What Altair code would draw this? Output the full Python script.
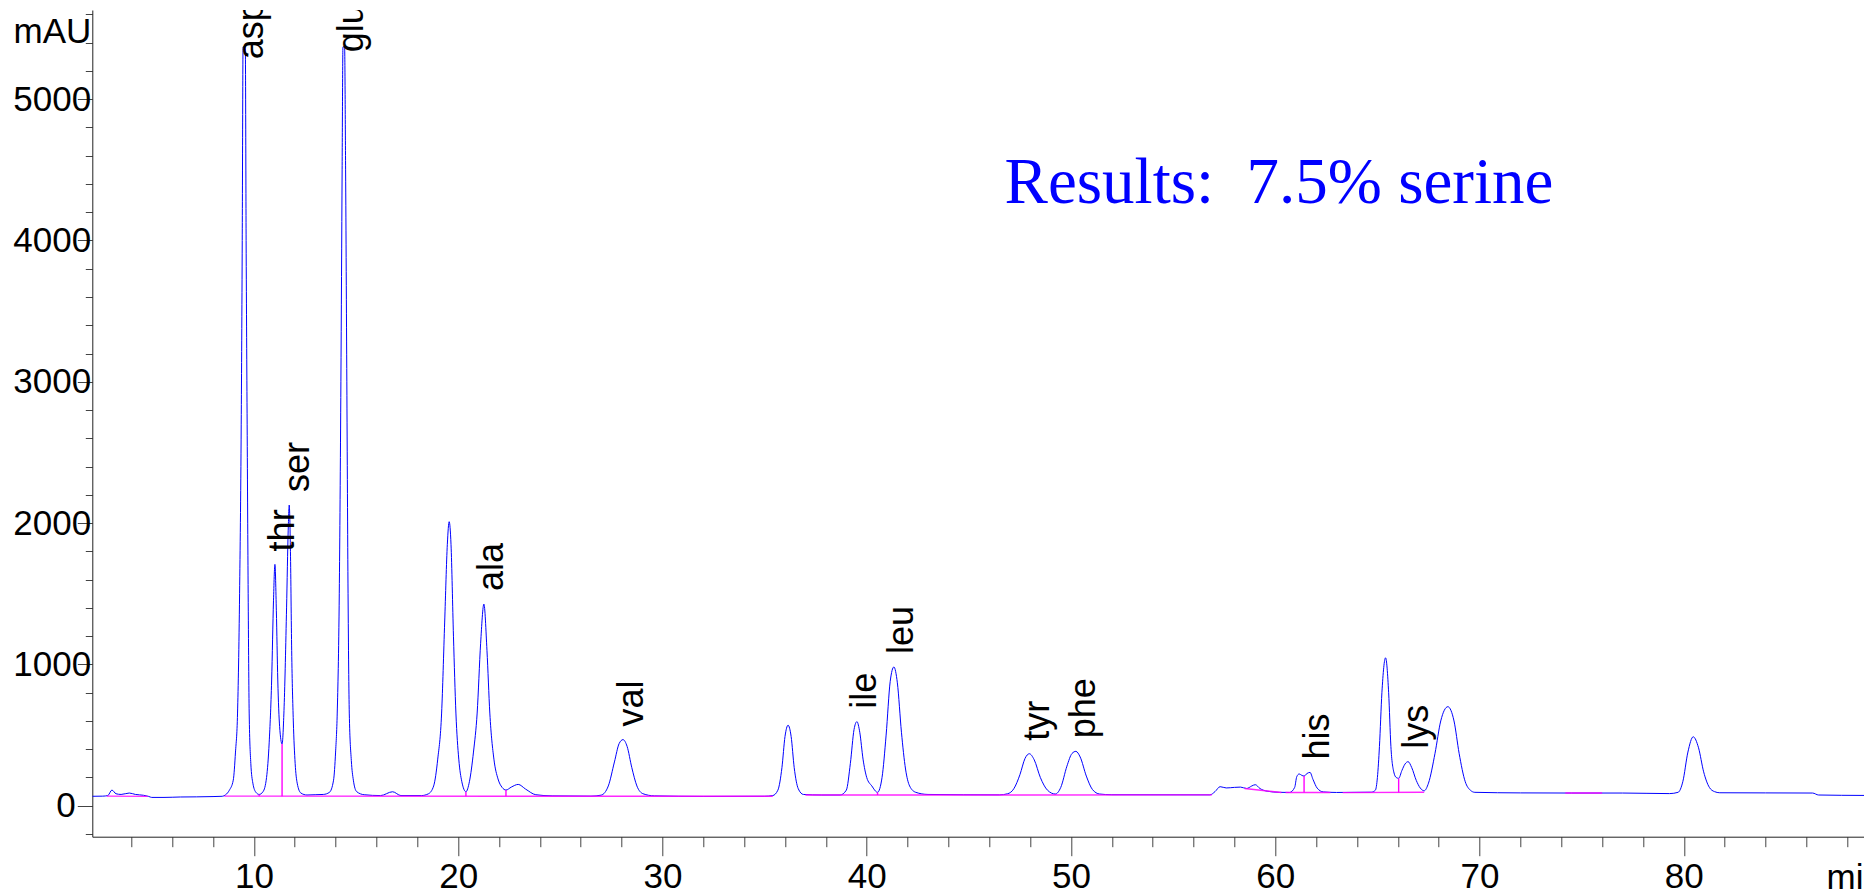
import altair as alt
import pandas as pd

# ---- chromatogram trace: retention time (min) / absorbance (mAU) ----
trace_time = [
    2.09, 2.6, 2.85, 3.05, 3.25, 3.5, 3.9, 4.2, 4.6, 4.85, 5.0, 5.6, 6.4, 7.2, 8.0, 8.45, 8.62,
    8.8, 8.99, 9.1, 9.2, 9.3, 9.38, 9.43, 9.47, 9.58, 9.62, 9.67, 9.72, 9.77, 9.85, 9.95, 10.1, 10.26,
    10.45, 10.62, 10.75, 10.87, 10.96, 11.03, 11.1, 11.17, 11.26, 11.38,
    11.48, 11.6, 11.68, 11.73, 11.79, 11.85, 11.93, 12.02, 12.12, 12.3, 12.6, 13.0, 13.4,
    13.7, 13.9, 14.0, 14.08, 14.18, 14.26, 14.32, 14.36, 14.44, 14.49, 14.55, 14.61, 14.67, 14.77,
    14.87, 15.03, 15.4, 16.2,
    16.79, 17.2, 18.2,
    18.55, 18.8, 19.0, 19.19, 19.34, 19.47, 19.56, 19.65, 19.77, 19.89, 20.03, 20.18, 20.38,
    20.55, 20.75, 20.93, 21.1, 21.26, 21.41, 21.55, 21.75, 21.95, 22.15, 22.34, 22.6, 22.94, 23.3,
    23.8, 24.6, 26.5,
    27.0, 27.35, 27.65, 27.88, 28.07, 28.27, 28.5, 28.75, 29.05, 29.6, 32.0, 35.0,
    35.4, 35.65, 35.85, 36.0, 36.15, 36.3, 36.45, 36.65, 36.9, 37.8, 38.7,
    39.0, 39.2, 39.38, 39.52, 39.66, 39.82, 40.0, 40.25, 40.53,
    40.75, 40.95, 41.15, 41.33, 41.5, 41.7, 41.9, 42.1, 42.4, 43.0, 46.5,
    46.9, 47.2, 47.5, 47.75, 47.96, 48.2, 48.5, 48.85, 49.23,
    49.5, 49.8, 50.05, 50.24, 50.45, 50.75, 51.05, 51.4, 52.0, 56.8,
    57.05, 57.3, 57.6, 58.0, 58.3, 58.6, 58.85, 59.02, 59.25, 59.6, 60.2, 60.7,
    60.95, 61.05, 61.17, 61.3, 61.41, 61.55, 61.7, 61.85, 62.05, 62.35, 63.0, 64.7,
    64.9, 65.0, 65.1, 65.22, 65.4, 65.55, 65.66, 65.8, 65.92, 66.04,
    66.2, 66.35, 66.5, 66.68, 66.9, 67.1, 67.29,
    67.5, 67.82, 68.1, 68.45, 68.75, 69.0, 69.3, 69.55, 69.77, 72.0, 74.5, 77.0, 79.3,
    79.72, 79.95, 80.2, 80.46, 80.72, 80.97, 81.25, 81.5, 81.76, 84.0, 86.3, 86.6, 88.82,
]
trace_mau = [
    67, 68, 72, 111, 85, 80, 90, 80, 74, 66, 59, 59, 62, 63, 65, 67, 78,
    110, 181, 380, 656, 1500, 2700, 4000, 5370, 5370, 4000, 2700, 1500, 656, 300, 160, 95, 80,
    100, 200, 450, 890, 1450, 1708, 1380, 890, 560, 437,
    700, 1400, 1950, 2128, 1800, 1100, 600, 300, 160, 90, 76, 78, 80,
    95, 181, 380, 656, 1500, 3000, 4500, 5370, 5370, 4500, 3000, 1500, 656, 320,
    181, 100, 78, 72,
    99, 72, 72,
    85, 140, 330, 656, 1300, 1850, 2010, 1850, 1200, 656, 330, 170, 99,
    170, 380, 656, 1150, 1427, 1100, 656, 330, 190, 130, 111, 132, 151, 118,
    78, 70, 68,
    75, 140, 310, 440, 468, 420, 270, 140, 85, 70, 66, 67,
    72, 110, 270, 490, 570, 490, 270, 120, 80, 76, 76,
    110, 300, 540, 595, 520, 330, 200, 140, 95,
    200, 500, 880, 982, 870, 520, 260, 140, 95, 80, 77,
    85, 120, 220, 335, 368, 325, 200, 110, 83,
    130, 280, 370, 385, 345, 210, 115, 83, 78, 77,
    100, 135, 126, 130, 132, 122, 140, 149, 122, 103, 95, 94,
    130, 205, 225, 215, 210, 228, 236, 185, 125, 98, 94, 96,
    110, 200, 420, 800, 1047, 800, 420, 240, 200, 194,
    250, 295, 312, 270, 180, 125, 106,
    160, 371, 600, 701, 600, 371, 170, 110, 95, 91, 90, 90, 86,
    95, 170, 380, 488, 410, 240, 130, 100, 92, 91, 90, 76, 73,
]

# ---- integration baselines (start / end of each segment) ----
seg_t0 = [2.8, 8.55, 37.0, 58.5, 60.5, 63.3, 74.2]
seg_v0 = [68, 68, 76, 122, 94, 93, 90]
seg_t1 = [4.8, 35.4, 56.9, 60.3, 62.7, 67.29, 76.0]
seg_v1 = [66, 67, 77, 94, 94, 96, 90]

# ---- drop lines at peak splits ----
drop_t = [10.26, 11.38, 20.38, 22.34, 40.53, 49.23, 61.41, 66.04]
drop_top = [80, 437, 99, 111, 95, 83, 210, 194]
drop_base = [68, 68, 68, 68, 76, 77, 94, 94]

# ---- peak names ----
peak_names = ["asp", "thr", "ser", "glu", "ala", "val", "ile", "leu", "tyr", "phe", "his", "lys"]
peak_time = [9.5, 11.03, 11.73, 14.38, 21.26, 28.07, 39.52, 41.33, 47.96, 50.24, 61.7, 66.5]
peak_mau = [5190, 1708, 2128, 5240, 1427, 468, 595, 982, 368, 385, 236, 312]

# ---- result note ----
note_text = ["Results:\u00a0 7.5% serine"]
note_time = [46.75]
note_mau = [4265]

SANS = "Liberation Sans, Arial, sans-serif"
SERIF = "Liberation Serif, Times New Roman, serif"
BLUE = "#0000ff"
MAGENTA = "#ff00ff"

x_scale = alt.Scale(domain=[2.09, 88.82], nice=False, zero=False)
y_scale = alt.Scale(domain=[-219, 5631], nice=False, zero=False)

x_axis = alt.Axis(
    values=list(range(4, 89, 2)),
    tickSize={"condition": {"test": "datum.value % 10 === 0", "value": 19}, "value": 10},
    tickColor="#444444",
    tickWidth=1,
    domainColor="#222222",
    domainWidth=1,
    grid=False,
    labelExpr="datum.value % 10 === 0 ? datum.label : ''",
    labelFont=SANS,
    labelFontSize=35,
    labelColor="black",
    labelBaseline="alphabetic",
    labelPadding=32,
    labelOverlap=False,
    labelFlush=False,
    labelBound=False,
    title="min",
    titleFont=SANS,
    titleFontSize=35,
    titleFontWeight="normal",
    titleColor="black",
    titleAlign="left",
    titleBaseline="alphabetic",
    titleX=1733.7,
    titleY=51.3,
)

y_axis = alt.Axis(
    values=list(range(-200, 5601, 200)),
    tickSize={"condition": {"test": "datum.value % 1000 === 0", "value": 15}, "value": 7},
    tickColor="#444444",
    tickWidth=1,
    domainColor="#222222",
    domainWidth=1,
    grid=False,
    labelExpr="datum.value % 1000 === 0 ? '' + datum.value : ''",
    labelFont=SANS,
    labelFontSize=35,
    labelColor="black",
    labelAlign="right",
    labelBaseline="middle",
    labelPadding={"condition": {"test": "datum.value === 0", "value": 2}, "value": -13.4},
    labelOverlap=False,
    labelFlush=False,
    labelBound=False,
    title="mAU",
    titleFont=SANS,
    titleFontSize=35,
    titleFontWeight="normal",
    titleColor="black",
    titleAngle=0,
    titleAlign="right",
    titleBaseline="alphabetic",
    titleX=-1.5,
    titleY=32.3,
)

trace = pd.DataFrame({"t": trace_time, "mau": trace_mau})
segs = pd.DataFrame({"t": seg_t0, "mau": seg_v0, "t1": seg_t1, "v1": seg_v1})
drops = pd.DataFrame({"t": drop_t, "mau": drop_base, "top": drop_top})
peaks = pd.DataFrame({"name": peak_names, "t": peak_time, "mau": peak_mau})
note = pd.DataFrame({"text": note_text, "t": note_time, "mau": note_mau})

X = alt.X("t:Q", scale=x_scale, axis=x_axis)
Y = alt.Y("mau:Q", scale=y_scale, axis=y_axis)

signal = alt.Chart(trace).mark_line(
    color=BLUE, strokeWidth=1, interpolate="monotone", clip=True
).encode(x=X, y=Y)

baselines = alt.Chart(segs).mark_rule(color=MAGENTA, strokeWidth=1.4, opacity=0.85).encode(
    x=X, x2="t1:Q", y=Y, y2="v1:Q",
)

droplines = alt.Chart(drops).mark_rule(color=MAGENTA, strokeWidth=1.4).encode(
    x=X, y=Y, y2="top:Q",
)

names = alt.Chart(peaks).mark_text(
    angle=270, align="left", baseline="alphabetic", dx=13, dy=19.5,
    font=SANS, fontSize=36, color="black", clip=True,
).encode(x=X, y=Y, text="name:N")

result = alt.Chart(note).mark_text(
    align="left", baseline="alphabetic", font=SERIF, fontSize=65, color=BLUE,
).encode(x=X, y=Y, text="text:N")

chart = (
    alt.layer(signal, baselines, droplines, names, result)
    .properties(
        width=1771.7,
        height=826.7,
        autosize=alt.AutoSizeParams(type="none"),
        padding={"left": 92.3, "top": 10, "right": 0, "bottom": 56.3},
        background="white",
    )
    .configure_view(stroke=None)
)

chart.save("out.html", embed_options={"renderer": "svg", "actions": False})
